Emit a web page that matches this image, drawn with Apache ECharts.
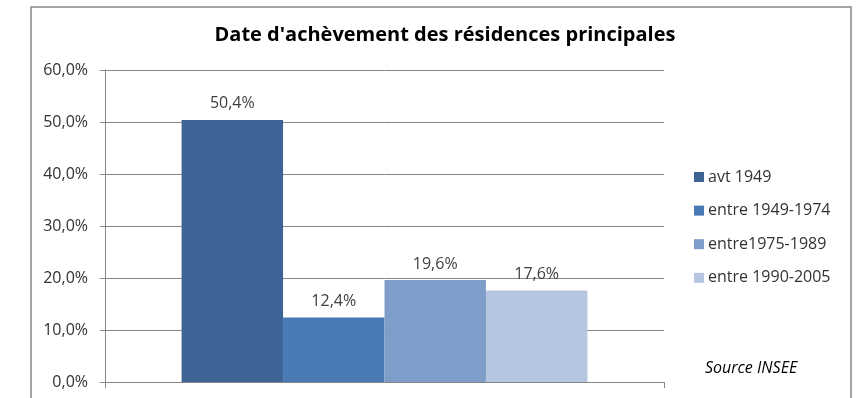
<!DOCTYPE html>
<html>
<head>
<meta charset="utf-8">
<script src="https://cdn.jsdelivr.net/npm/echarts@6/dist/echarts.min.js"></script>
<style>
  html, body { margin: 0; padding: 0; background: #fff; }
  #chart { width: 865px; height: 398px; }
</style>
</head>
<body>
<div id="chart"></div>
<script>
// Construction periods of main residences (share of the housing stock, %)
const categories = [''];
const periods = ['avt 1949', 'entre 1949-1974', 'entre1975-1989', 'entre 1990-2005'];
const shares = [50.4, 12.4, 19.6, 17.6];
const periodColors = ['#3d6494', '#4a7ab6', '#7f9dc9', '#b7c6e0'];
const yTicks = { min: 0, max: 60, interval: 10 };

const FONT = '"Open Sans", "DejaVu Sans", sans-serif';
const pct = v => v.toFixed(1).replace('.', ',') + '%';

const chart = echarts.init(document.getElementById('chart'), null, { renderer: 'canvas' });

const series = periods.map((name, i) => ({
  name: name,
  type: 'bar',
  data: [shares[i]],
  barGap: '0%',
  barCategoryGap: '27.4%',
  itemStyle: { color: periodColors[i] },
  label: {
    show: true,
    position: 'top',
    distance: 8,
    color: '#404040',
    fontFamily: FONT,
    fontSize: 16,
    formatter: p => pct(p.value)
  }
}));

chart.setOption({
  animation: false,
  backgroundColor: '#fff',
  title: {
    text: "Date d'achèvement des résidences principales",
    left: 440,
    textAlign: 'center',
    top: 20,
    textStyle: { fontFamily: FONT, fontWeight: 'bold', fontSize: 20, color: '#000' }
  },
  legend: {
    data: periods,
    orient: 'vertical',
    left: 689,
    top: 164,
    itemWidth: 10,
    itemHeight: 10,
    itemGap: 17.6,
    icon: 'rect',
    textStyle: { fontFamily: FONT, fontSize: 16, color: '#333', padding: [0, 0, 0, -1] }
  },
  grid: { left: 105, right: 201, top: 70, bottom: 16, containLabel: false },
  xAxis: {
    type: 'category',
    data: categories,
    axisLine: { lineStyle: { color: '#868686', width: 1 } },
    axisTick: { show: true, length: 6, lineStyle: { color: '#868686' } },
    axisLabel: { show: false }
  },
  yAxis: {
    type: 'value',
    min: yTicks.min,
    max: yTicks.max,
    interval: yTicks.interval,
    axisLine: { show: true, lineStyle: { color: '#868686', width: 1 } },
    axisTick: { show: true, length: 5, lineStyle: { color: '#868686' } },
    axisLabel: {
      margin: 17,
      color: '#333',
      fontFamily: FONT,
      fontSize: 16,
      formatter: v => pct(v)
    },
    splitLine: { show: true, lineStyle: { color: '#868686', width: 1 } }
  },
  series: series,
  graphic: [
    {
      type: 'rect',
      shape: { x: 31, y: 7, width: 820, height: 430 },
      style: { fill: 'none', stroke: '#888', lineWidth: 1.5 },
      silent: true,
      z: 100
    },
    {
      type: 'text',
      left: 705,
      top: 360,
      style: {
        text: 'Source INSEE',
        font: 'italic 16px ' + FONT,
        fill: '#000'
      }
    }
  ]
});
</script>
</body>
</html>
